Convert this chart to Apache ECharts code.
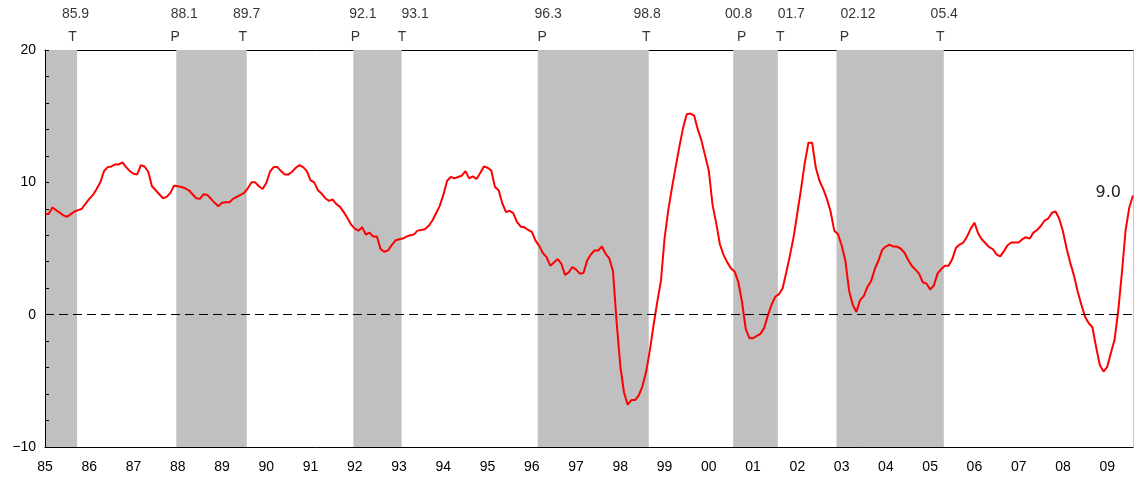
<!DOCTYPE html>
<html>
<head>
<meta charset="utf-8">
<title>Monthly growth with peak/trough shading</title>
<script src="https://cdn.jsdelivr.net/npm/echarts@6/dist/echarts.min.js"></script>
<style>
  html, body { margin: 0; padding: 0; background: #ffffff; }
  #chart { width: 1136px; height: 484px; }
</style>
</head>
<body>
<div id="chart"></div>
<script>
// Monthly series, Jan 1985 onward, one array per calendar year (%).
const y1985 = [7.6, 7.6, 8.1, 7.9, 7.7, 7.5, 7.4, 7.6, 7.8, 7.9, 8.0, 8.4];
const y1986 = [8.75, 9.05, 9.5, 10.0, 10.85, 11.15, 11.2, 11.35, 11.35, 11.5, 11.15, 10.85];
const y1987 = [10.65, 10.6, 11.3, 11.2, 10.8, 9.7, 9.4, 9.1, 8.8, 8.9, 9.2, 9.75];
const y1988 = [9.7, 9.65, 9.55, 9.4, 9.1, 8.8, 8.75, 9.1, 9.05, 8.75, 8.45, 8.2];
const y1989 = [8.45, 8.5, 8.5, 8.75, 8.9, 9.05, 9.2, 9.55, 10.0, 10.0, 9.7, 9.5];
const y1990 = [9.95, 10.8, 11.15, 11.15, 10.85, 10.6, 10.6, 10.8, 11.1, 11.3, 11.15, 10.85];
const y1991 = [10.15, 10.0, 9.4, 9.15, 8.8, 8.6, 8.7, 8.35, 8.15, 7.75, 7.3, 6.8];
const y1992 = [6.5, 6.35, 6.6, 6.05, 6.2, 5.9, 5.9, 4.95, 4.75, 4.85, 5.25, 5.6];
const y1993 = [5.7, 5.75, 5.9, 6.0, 6.05, 6.35, 6.4, 6.45, 6.7, 7.1, 7.65, 8.2];
const y1994 = [9.05, 10.1, 10.4, 10.3, 10.4, 10.5, 10.85, 10.3, 10.45, 10.25, 10.7, 11.2];
const y1995 = [11.1, 10.9, 9.65, 9.4, 8.4, 7.75, 7.85, 7.65, 7.0, 6.65, 6.6, 6.4];
const y1996 = [6.25, 5.6, 5.2, 4.65, 4.35, 3.7, 3.95, 4.2, 3.85, 3.0, 3.2, 3.6];
const y1997 = [3.4, 3.1, 3.15, 4.1, 4.55, 4.85, 4.85, 5.15, 4.6, 4.25, 3.3, -0.6];
const y1998 = [-3.9, -5.9, -6.8, -6.45, -6.45, -6.1, -5.4, -4.3, -2.7, -0.8, 0.95, 2.55];
const y1999 = [5.8, 7.9, 9.6, 11.15, 12.7, 14.1, 15.15, 15.2, 15.05, 14.0, 13.15, 12.0];
const y2000 = [10.85, 8.3, 6.9, 5.3, 4.5, 3.95, 3.5, 3.25, 2.45, 0.95, -1.1, -1.78];
const y2001 = [-1.78, -1.6, -1.45, -1.0, -0.05, 0.75, 1.35, 1.55, 2.0, 3.2, 4.5, 5.9];
const y2002 = [7.7, 9.5, 11.45, 13.0, 13.0, 11.1, 10.1, 9.5, 8.75, 7.8, 6.35, 6.1];
const y2003 = [5.25, 4.1, 1.85, 0.75, 0.2, 1.1, 1.4, 2.1, 2.55, 3.45, 4.1, 4.9];
const y2004 = [5.15, 5.3, 5.15, 5.15, 5.0, 4.7, 4.15, 3.7, 3.4, 3.1, 2.45, 2.35];
const y2005 = [1.9, 2.2, 3.1, 3.45, 3.7, 3.7, 4.2, 5.05, 5.3, 5.45, 5.9, 6.5];
const y2006 = [6.95, 6.15, 5.7, 5.4, 5.1, 4.95, 4.55, 4.4, 4.8, 5.25, 5.45, 5.45];
const y2007 = [5.45, 5.7, 5.85, 5.75, 6.2, 6.4, 6.7, 7.1, 7.25, 7.7, 7.8, 7.25];
const y2008 = [6.3, 5.0, 3.9, 2.95, 1.75, 0.75, -0.15, -0.65, -0.95, -2.45, -3.8, -4.3];
const y2009 = [-3.95, -2.9, -1.9, 0.3, 3.2, 6.4, 8.1, 9.0];

// Business-cycle turning points (yy.m) and their kind: P = peak, T = trough.
const turnDates = ['85.9', '88.1', '89.7', '92.1', '93.1', '96.3', '98.8', '00.8', '01.7', '02.12', '05.4'];
const turnKinds = ['T', 'P', 'T', 'P', 'T', 'P', 'T', 'P', 'T', 'P', 'T'];

// Value-axis range and the tick labels shown on it.
const yMin = -10;
const yMax = 20;
const yLabelValues = [-10, 0, 10, 20];
const firstYear = 1985;

const growth = [].concat(
  y1985, y1986, y1987, y1988, y1989, y1990, y1991, y1992, y1993, y1994, y1995, y1996,
  y1997, y1998, y1999, y2000, y2001, y2002, y2003, y2004, y2005, y2006, y2007, y2008, y2009
);
const lastIdx = growth.length - 1;

// Month index (0 = Jan 1985) of a "yy.m" date.
function monthIndex(s) {
  const parts = s.split('.').map(Number);
  const year = parts[0] >= 50 ? 1900 + parts[0] : 2000 + parts[0];
  return (year - firstYear) * 12 + (parts[1] - 1);
}
const turnIdx = turnDates.map(monthIndex);

// Shaded spells run from just before the peak month to the end of the trough month.
const shadeLead = 0.4;
const shadeLag = 0.7;
const shades = [];
turnKinds.forEach(function (k, n) {
  if (k !== 'T') return;
  const start = (n > 0 && turnKinds[n - 1] === 'P') ? turnIdx[n - 1] - shadeLead : -1;
  shades.push([{ xAxis: start }, { xAxis: turnIdx[n] + shadeLag }]);
});

// Small horizontal nudges (px) for the labels above the frame.
const kindNudge = [-2, -2.5, -1.5, 0.5, 3, 3, 0, 7, 5, 6.5, -1];
const dateNudge = [1, 6.5, 2.5, 8, 16, 9, 1, 4, 16, 20, 3];

const textFont = 'Liberation Sans, Arial, sans-serif';
const textColor = '#000000';

const chart = echarts.init(document.getElementById('chart'), null, { renderer: 'canvas' });

chart.setOption({
  animation: false,
  backgroundColor: '#ffffff',
  grid: { left: 45, right: 1, top: 50, bottom: 37, containLabel: false },
  xAxis: [
    {
      type: 'value',
      min: 0,
      max: lastIdx,
      interval: 12,
      position: 'bottom',
      axisLine: { show: true, onZero: false, lineStyle: { color: '#000000', width: 1 } },
      axisTick: { show: false },
      splitLine: { show: false },
      axisLabel: {
        margin: 13,
        fontFamily: textFont,
        fontSize: 14,
        color: textColor,
        showMinLabel: true,
        showMaxLabel: true,
        formatter: function (v) {
          if (v % 12 !== 0) return '';
          return String((firstYear + v / 12) % 100).padStart(2, '0');
        }
      }
    },
    {
      type: 'value',
      min: 0,
      max: lastIdx,
      position: 'top',
      axisLine: { show: true, onZero: false, lineStyle: { color: '#000000', width: 1 } },
      axisTick: { show: false },
      axisLabel: { show: false },
      splitLine: { show: false }
    }
  ],
  yAxis: [
    {
      type: 'value',
      min: yMin,
      max: yMax,
      interval: 2,
      position: 'left',
      z: 5,
      axisLine: { show: true, onZero: false, lineStyle: { color: '#000000', width: 1 } },
      axisTick: { show: true, inside: true, length: 4, lineStyle: { color: '#000000' } },
      splitLine: { show: false },
      axisLabel: {
        margin: 9,
        fontFamily: textFont,
        fontSize: 14,
        color: textColor,
        formatter: function (v) {
          if (yLabelValues.indexOf(v) < 0) return '';
          return v < 0 ? '\u2212' + Math.abs(v) : String(v);
        }
      }
    },
    {
      type: 'value',
      min: yMin,
      max: yMax,
      position: 'right',
      axisLine: { show: true, onZero: false, lineStyle: { color: '#c8c8c8', width: 1 } },
      axisTick: { show: false },
      axisLabel: { show: false },
      splitLine: { show: false }
    }
  ],
  series: [
    {
      name: 'shading',
      type: 'line',
      data: [],
      z: 1,
      silent: true,
      markArea: {
        silent: true,
        itemStyle: { color: '#c0c0c0', opacity: 1 },
        label: { show: false },
        data: shades
      }
    },
    {
      name: 'growth',
      type: 'line',
      data: growth.map(function (v, i) { return [i, v]; }),
      z: 3,
      showSymbol: false,
      symbol: 'none',
      lineStyle: { color: '#ff0000', width: 2 },
      itemStyle: { color: '#ff0000' },
      markLine: {
        silent: true,
        symbol: ['none', 'none'],
        label: { show: false },
        lineStyle: { color: '#000000', width: 1, type: [9, 5] },
        data: [{ yAxis: 0 }]
      },
      markPoint: {
        silent: true,
        symbol: 'circle',
        symbolSize: 0,
        data: [{ coord: [lastIdx, growth[lastIdx]], value: growth[lastIdx] }],
        label: {
          show: true,
          position: 'left',
          distance: 12,
          offset: [0, -3],
          fontFamily: 'DejaVu Sans, sans-serif',
          fontSize: 16,
          color: '#222222',
          formatter: function (p) { return Number(p.value).toFixed(1); }
        }
      }
    },
    {
      name: 'turn-kind',
      type: 'scatter',
      clip: false,
      silent: true,
      symbolSize: 0,
      z: 4,
      data: turnIdx.map(function (i, n) {
        return { value: [i, yMax], label: { offset: [kindNudge[n], 0] } };
      }),
      label: {
        show: true,
        position: 'top',
        distance: 6,
        fontFamily: textFont,
        fontSize: 14,
        color: textColor,
        formatter: function (p) { return turnKinds[p.dataIndex]; }
      }
    },
    {
      name: 'turn-date',
      type: 'scatter',
      clip: false,
      silent: true,
      symbolSize: 0,
      z: 4,
      data: turnIdx.map(function (i, n) {
        return { value: [i, yMax], label: { offset: [dateNudge[n], 0] } };
      }),
      label: {
        show: true,
        position: 'top',
        distance: 29,
        fontFamily: textFont,
        fontSize: 14,
        color: textColor,
        formatter: function (p) { return turnDates[p.dataIndex]; }
      }
    }
  ]
});
</script>
</body>
</html>
